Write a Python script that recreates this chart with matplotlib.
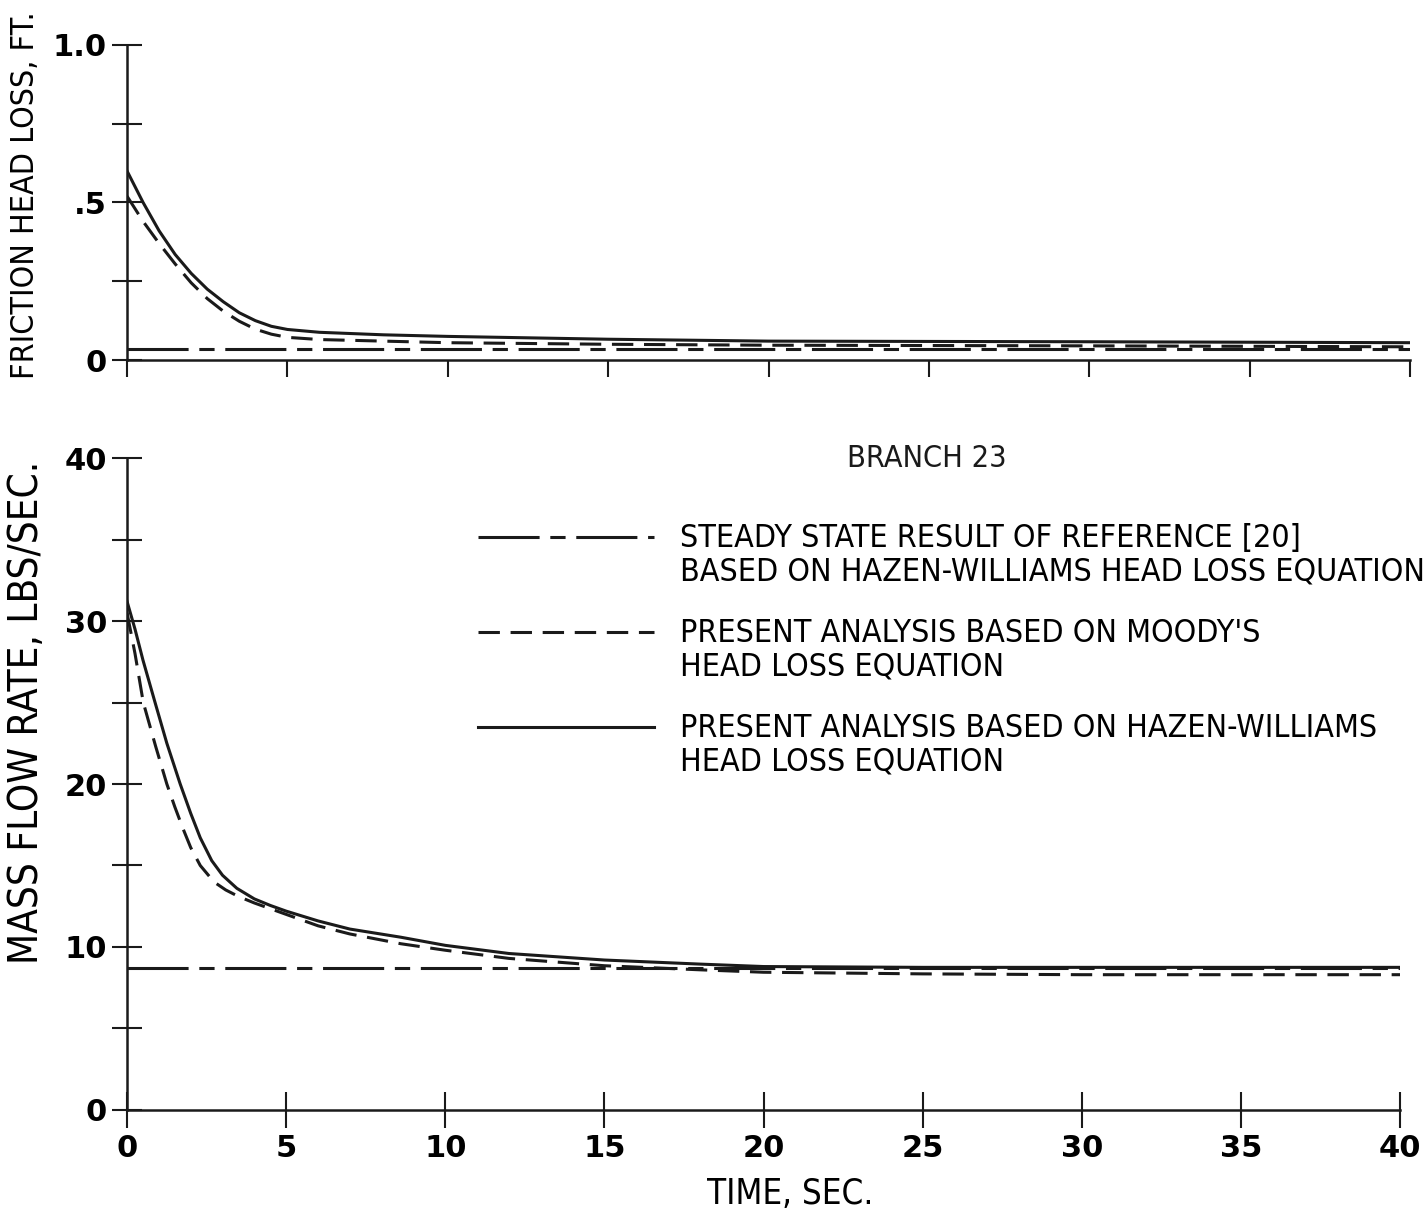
import matplotlib
matplotlib.use("Agg")
import numpy as np
import matplotlib.pyplot as plt
from matplotlib import font_manager as fm
from matplotlib.lines import Line2D
from matplotlib.legend_handler import HandlerLine2D

# time axis, seconds
t_hw = [0, 0.25, 0.5, 0.88, 1.25, 1.67, 2.0, 2.3, 2.66, 3.0, 3.45, 4, 4.5, 5, 6, 7, 8.6, 10, 12, 15, 18, 20, 25, 30, 40]
flow_hw = [31.2, 29.5, 27.6, 25.0, 22.5, 20.0, 18.2, 16.7, 15.3, 14.4, 13.6, 12.95, 12.55, 12.2, 11.6, 11.1, 10.6, 10.1, 9.6, 9.2, 8.95, 8.8, 8.75, 8.75, 8.75]

t_moody = [0, 0.25, 0.51, 0.9, 1.25, 1.5, 1.75, 2.0, 2.3, 2.6, 2.8, 3.1, 3.5, 4.0, 4.5, 5, 6, 7, 8.6, 10, 12, 15, 18, 20, 25, 30, 40]
flow_moody = [30.5, 28.0, 25.0, 22.3, 20.0, 18.6, 17.3, 16.1, 15.0, 14.3, 13.9, 13.5, 13.1, 12.7, 12.35, 12.0, 11.3, 10.8, 10.2, 9.8, 9.3, 8.85, 8.6, 8.45, 8.35, 8.3, 8.3]

t_steady = [0, 40]
flow_steady = [8.7, 8.7]

t_head = [0, 0.5, 1, 1.5, 2, 2.5, 3, 3.5, 4, 4.5, 5, 6, 8, 10, 15, 20, 30, 40]
head_hw = [0.60, 0.50, 0.41, 0.335, 0.275, 0.225, 0.185, 0.15, 0.125, 0.107, 0.097, 0.088, 0.08, 0.075, 0.066, 0.06, 0.058, 0.055]
head_moody = [0.52, 0.44, 0.37, 0.305, 0.245, 0.195, 0.155, 0.123, 0.098, 0.082, 0.072, 0.065, 0.06, 0.055, 0.05, 0.047, 0.045, 0.042]
head_steady = [0.035, 0.035]

x_ticks = [0, 5, 10, 15, 20, 25, 30, 35, 40]
head_ticks = [0, 0.25, 0.5, 0.75, 1.0]
head_ticklabels = ["0", "", ".5", "", "1.0"]
flow_ticks = [0, 5, 10, 15, 20, 25, 30, 35, 40]
flow_ticklabels = ["0", "", "10", "", "20", "", "30", "", "40"]

labels = [
    "STEADY STATE RESULT OF REFERENCE [20]\nBASED ON HAZEN-WILLIAMS HEAD LOSS EQUATION",
    "PRESENT ANALYSIS BASED ON MOODY'S\nHEAD LOSS EQUATION",
    "PRESENT ANALYSIS BASED ON HAZEN-WILLIAMS\nHEAD LOSS EQUATION",
]


def narrow_font():
    # look for any installed condensed / narrow face
    for f in fm.fontManager.ttflist:
        name = (f.name + " " + f.fname).lower()
        low = f.fname.lower()
        if ("narrow" in name or "condensed" in name) and "bold" not in low \
                and "italic" not in low and "oblique" not in low:
            return f.fname, 1.0
    return None, 0.8


narrow_path, shrink = narrow_font()


def fp(size):
    if narrow_path:
        return fm.FontProperties(fname=narrow_path, size=size)
    return fm.FontProperties(family="DejaVu Sans", size=size * shrink)


class RaisedLine(HandlerLine2D):
    # put the legend key level with the first line of a two-line label
    def create_artists(self, legend, orig_handle, xdescent, ydescent, width, height, fontsize, trans):
        arts = super().create_artists(legend, orig_handle, xdescent, ydescent, width, height, fontsize, trans)
        for a in arts:
            a.set_ydata(np.asarray(a.get_ydata()) + 0.6 * fontsize)
        return arts


ink = "#1a1a1a"
lw = 2.2
steady_dash = (20, 3.5, 5, 3.5)
moody_dash = (7, 3.5)

fig = plt.figure(figsize=(14.26, 12.25), dpi=100)
ax1 = fig.add_axes([0.0891, 0.7061, 0.8997, 0.2572])
ax2 = fig.add_axes([0.0891, 0.0939, 0.8927, 0.5322])

for ax in (ax1, ax2):
    for s in ("top", "right"):
        ax.spines[s].set_visible(False)
    for s in ("left", "bottom"):
        ax.spines[s].set_linewidth(1.8)
        ax.spines[s].set_color(ink)
    ax.set_xlim(0, 40)
    ax.set_xticks(x_ticks)
    ax.tick_params(direction="inout", length=22, width=1.5, color=ink)

# top panel: friction head loss
ax1.plot(t_steady, head_steady, color=ink, lw=lw, dashes=steady_dash)
ax1.plot(t_head, head_moody, color=ink, lw=lw, dashes=moody_dash)
ax1.plot(t_head, head_hw, color=ink, lw=lw)
ax1.set_ylim(0, 1.0)
ax1.set_yticks(head_ticks)
ax1.set_yticklabels(head_ticklabels, fontsize=22, fontweight="bold")
ax1.set_xticklabels([])
ax1.tick_params(axis="x", direction="out", length=12)
ax1.set_ylabel("FRICTION HEAD LOSS, FT.", fontproperties=fp(23))
ax1.yaxis.set_label_coords(-0.067, 0.524)

# bottom panel: mass flow rate
ax2.plot(t_steady, flow_steady, color=ink, lw=lw, dashes=steady_dash)
ax2.plot(t_moody, flow_moody, color=ink, lw=lw, dashes=moody_dash)
ax2.plot(t_hw, flow_hw, color=ink, lw=lw)
ax2.set_ylim(0, 40)
ax2.set_yticks(flow_ticks)
ax2.set_yticklabels(flow_ticklabels, fontsize=22, fontweight="bold")
ax2.set_xticklabels([str(v) for v in x_ticks], fontsize=22, fontweight="bold")
ax2.tick_params(axis="x", length=26, pad=4)
ax2.set_ylabel("MASS FLOW RATE, LBS/SEC.", fontproperties=fp(29))
ax2.yaxis.set_label_coords(-0.063, 0.61)
ax2.set_xlabel("TIME, SEC.", fontproperties=fp(25))
ax2.xaxis.set_label_coords(0.521, -0.103)

ax2.text(0.628, 1.0, "BRANCH 23", transform=ax2.transAxes, fontproperties=fp(22),
         ha="center", va="center", color=ink)

handles = [
    Line2D([], [], color=ink, lw=lw, dashes=steady_dash),
    Line2D([], [], color=ink, lw=lw, dashes=moody_dash),
    Line2D([], [], color=ink, lw=lw),
]
leg = ax2.legend(handles, labels, loc="upper left", bbox_to_anchor=(0.276, 0.9),
                 frameon=False, prop=fp(23),
                 handler_map={Line2D: RaisedLine()},
                 handlelength=5.5, handletextpad=0.8, labelspacing=0.95,
                 borderaxespad=0, borderpad=0)
for txt in leg.get_texts():
    txt.set_linespacing(1.1)

fig.savefig("out.png", dpi=100)
